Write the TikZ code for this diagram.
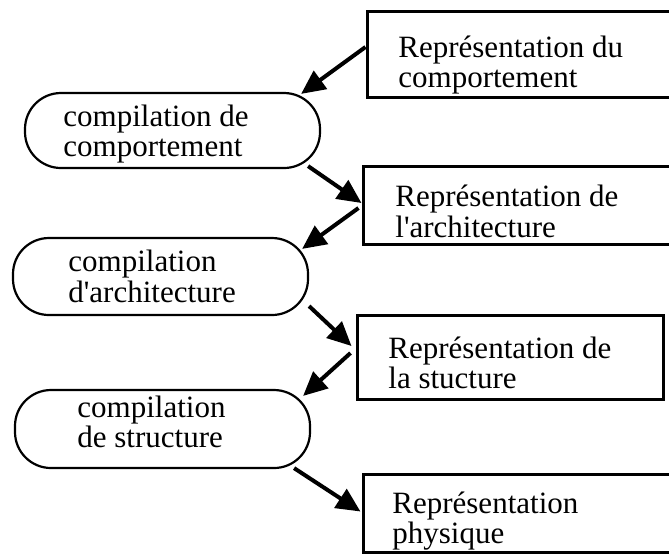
\documentclass[tikz,border=0pt]{standalone}
\usepackage{fontspec}
\setmainfont{Liberation Serif}
\usetikzlibrary{arrows.meta,calc}
\tikzset{
  rbox/.style={draw, line width=1.5pt, rectangle, inner sep=0pt},
  oval/.style={draw, line width=1.1pt, rectangle, rounded corners=18pt, inner sep=0pt, minimum width=147.5pt},
  txt/.style={inner sep=0pt, anchor=base west, font=\fontsize{15.5pt}{15pt}\selectfont},
  arr/.style={line width=2pt, -{Triangle[length=12pt,width=11pt]}}
}
\begin{document}
\begin{tikzpicture}[x=0.5pt,y=-0.5pt]
\clip (0,0) rectangle (669,554);
\fill[white] (0,0) rectangle (669,554);
% boxes
\node[rbox, minimum width=156.5pt, minimum height=43pt] (b1) at (523.5,54) {};
\node[rbox, minimum width=158.5pt, minimum height=39pt] (b2) at (521.5,205) {};
\node[rbox, minimum width=153pt, minimum height=42pt] (b3) at (510,357) {};
\node[rbox, minimum width=158.5pt, minimum height=39pt] (b4) at (521.5,513.5) {};
% ovals
\node[oval, minimum height=37.5pt] (o1) at (172.5,130.5) {};
\node[oval, minimum height=38.5pt] (o2) at (160.5,276.5) {};
\node[oval, minimum height=39pt] (o3) at (162.5,429) {};
% texts
\node[txt] (b1a) at (398,57) {Représentation du};
\node[txt] (b1b) at (398,87) {comportement};
\node[txt] (b2a) at (395,206) {Représentation de};
\node[txt] (b2b) at (395,237) {l\textquotesingle architecture};
\node[txt] (b3a) at (388,358) {Représentation de};
\node[txt] (b3b) at (388,388) {la stucture};
\node[txt] (b4a) at (392,513) {Représentation};
\node[txt] (b4b) at (392,543) {physique};
\node[txt] (o1a) at (63,126) {compilation de};
\node[txt] (o1b) at (63,156) {comportement};
\node[txt] (o2a) at (68,271) {compilation};
\node[txt] (o2b) at (68,302) {d\textquotesingle architecture};
\node[txt] (o3a) at (77,417) {compilation};
\node[txt] (o3b) at (77,447) {de structure};
% arrows
\draw[arr] ($(b1.west)+(0,-7)$) -- ($(o1.north east)+(-20,2)$);
\draw[arr] ($(o1.south east)+(-13,-3)$) -- ($(b2.west)+(0,-2)$);
\draw[arr] ($(b2.west)+(-3,3)$) -- ($(o2.north east)+(-7,12)$);
\draw[arr] ($(o2.south east)+(0,-10)$) -- ($(b3.west)+(-4,-11)$);
\draw[arr] ($(b3.west)+(-5,-4)$) -- ($(o3.north east)+(-8,7)$);
\draw[arr] ($(o3.south east)+(-17,-1)$) -- ($(b4.west)+(-1,-2)$);
\end{tikzpicture}
\end{document}
